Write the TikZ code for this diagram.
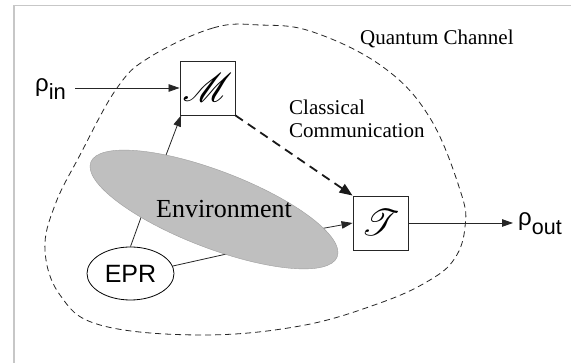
\documentclass[tikz,border=0pt]{standalone}
\usepackage{fontspec}
\setmainfont{Liberation Serif}
\newfontfamily\sansf{Liberation Sans}
\usepackage{graphicx}
\usepackage{mathrsfs}
\usetikzlibrary{arrows.meta,shapes.geometric}
\begin{document}
\begin{tikzpicture}[x=1pt,y=1pt,
  box/.style={draw=black!85, line width=0.9pt, minimum width=55pt, minimum height=54pt, inner sep=0pt, fill=white},
  conn/.style={line width=0.8pt, draw=black!85},
  arr/.style={conn, -{Triangle[length=11pt,width=7.5pt]}},
  lbl/.style={font=\fontsize{21}{24}\selectfont, inner sep=0pt, anchor=base west},
  sub/.style={font=\sansf\fontsize{24}{24}\selectfont, inner sep=0pt, anchor=base west},
]
\useasboundingbox (0,0) rectangle (571,363);
\fill[white] (0,0) rectangle (571,363);
\draw[black!22, line width=1.5pt] (14,0) -- (14,357.5) -- (571,357.5);

% quantum channel boundary
\draw[black!85, line width=0.8pt, dash pattern=on 6pt off 4pt]
  plot[smooth cycle, tension=0.65] coordinates {(150,306) (213,335) (260,338) (313,331) (383,296) (430,245) (461,170) (465,136) (455,105) (430,83) (380,60) (300,37) (200,28) (100,38) (60,68) (45,113) (55,158) (80,208) (117,275)};
\node[lbl] (qc) at (360,318) {Quantum Channel};

% boxes
\node[box] (M) at (207.5,275) {\scalebox{4.0}{$\mathscr{M}$}};
\node[box] (T) at (380.5,140) {\scalebox{3.7}{$\mathscr{T}$}};

% inner coordinates in environment
\coordinate (e1) at (160,192);
\coordinate (e2) at (305,131.4);
\coordinate (e3) at (148,165);
\coordinate (e4) at (240,112);

\node[ellipse, draw, line width=0.8pt, minimum width=87pt, minimum height=53pt, inner sep=0pt, font=\sansf\fontsize{25}{25}\selectfont] (epr) at (130.5,89.5) {EPR};

\draw[conn] (epr.north) -- (e3);
\draw[conn] (epr.10) -- (e4);
\draw[arr] (e1) -- ([xshift=1.5pt]M.south west);
\draw[arr] (e2) -- (T.west);

\node[ellipse, minimum width=264pt, minimum height=77pt, rotate=-21, fill=black!25, draw=black!38, line width=0.4pt] (env) at (214,153.5) {};
\node[font=\fontsize{26}{26}\selectfont, inner sep=0pt, anchor=base] (envt) at (224,145) {Environment};

% input / output
\node[sub] (rin) at (35,271) {ρ\raisebox{-8pt}{\fontsize{22}{22}\selectfont in}};
\coordinate (in) at (75,275);
\draw[arr] (in) -- (M.west);
\coordinate (out) at (513,140);
\draw[arr] (T.east) -- (out);
\node[sub] (rout) at (518,137) {ρ\raisebox{-9pt}{\fontsize{21.5}{21.5}\selectfont out}};

% classical communication
\draw[line width=1.8pt, draw=black!90, dash pattern=on 9pt off 6pt, -{Triangle[length=13pt,width=10pt]}] (M.south east) -- (T.north west);
\node[lbl] (cl1) at (289,248) {Classical};
\node[lbl] (cl2) at (289,225) {Communication};
\end{tikzpicture}
\end{document}
